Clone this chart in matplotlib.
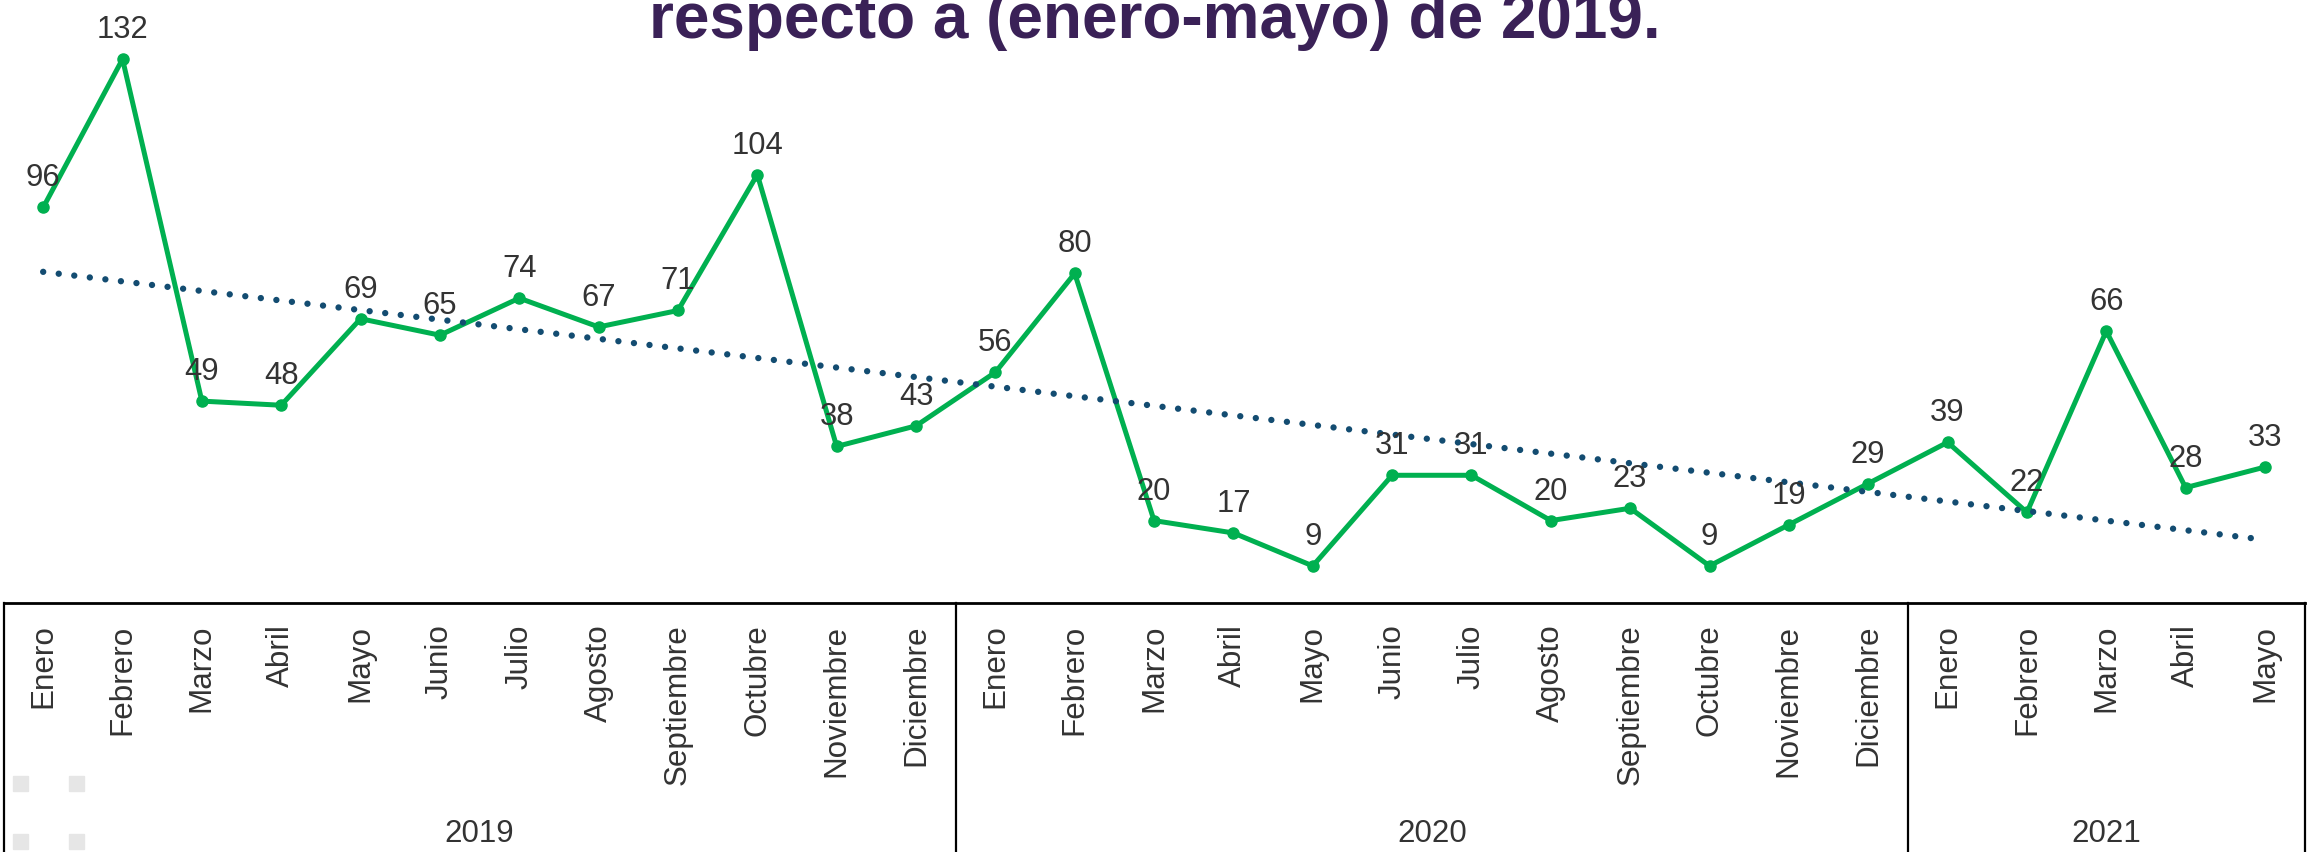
import numpy as np
import matplotlib
matplotlib.use("Agg")
import matplotlib.pyplot as plt
from matplotlib.transforms import blended_transform_factory
from matplotlib.patches import Rectangle

plt.rcParams["font.family"] = ["Liberation Sans", "DejaVu Sans"]

# Monthly values by year
months_2019 = ["Enero", "Febrero", "Marzo", "Abril", "Mayo", "Junio", "Julio",
               "Agosto", "Septiembre", "Octubre", "Noviembre", "Diciembre"]
months_2020 = ["Enero", "Febrero", "Marzo", "Abril", "Mayo", "Junio", "Julio",
               "Agosto", "Septiembre", "Octubre", "Noviembre", "Diciembre"]
months_2021 = ["Enero", "Febrero", "Marzo", "Abril", "Mayo"]

values_2019 = [96, 132, 49, 48, 69, 65, 74, 67, 71, 104, 38, 43]
values_2020 = [56, 80, 20, 17, 9, 31, 31, 20, 23, 9, 19, 29]
values_2021 = [39, 22, 66, 28, 33]

years = ["2019", "2020", "2021"]
title = "respecto a (enero-mayo) de 2019."

labels = months_2019 + months_2020 + months_2021
values = np.array(values_2019 + values_2020 + values_2021, dtype=float)
group_sizes = [len(months_2019), len(months_2020), len(months_2021)]
x = np.arange(len(values))

W, H = 2310, 852
fig = plt.figure(figsize=(W / 100, H / 100), dpi=100)

cat_w = 79.35
left_px = 3.5
bottom_px = 603
ax = fig.add_axes([left_px / W, (H - bottom_px) / H,
                   cat_w * len(values) / W, bottom_px / H])
ax.set_xlim(-0.5, len(values) - 0.5)
ax.set_ylim(0, bottom_px / 4.12)

green = "#00B050"
trend_col = "#134C71"
text_col = "#333333"

ax.plot(x, values, color=green, lw=3.6, marker="o", ms=8,
        solid_joinstyle="round", zorder=3)

# Linear trend
coef = np.polyfit(x, values, 1)
ax.plot(x, np.polyval(coef, x), color=trend_col, lw=4.6,
        linestyle=(0, (0.001, 2.45)), dash_capstyle="round", zorder=4)

for xi, v in zip(x, values):
    ax.annotate(f"{int(v)}", (xi, v), xytext=(0, 21), textcoords="offset pixels",
                ha="center", va="baseline", fontsize=22.3, color=text_col,
                zorder=5)

# Axis styling
for s in ["left", "right", "top"]:
    ax.spines[s].set_visible(False)
ax.spines["bottom"].set_color("black")
ax.spines["bottom"].set_linewidth(2)
ax.set_yticks([])
ax.set_xticks(x)
ax.set_xticklabels(labels, rotation=90, fontsize=22.6, color=text_col)
ax.tick_params(axis="x", length=0, pad=15.5)

# Category box with year separators
xt = ax.get_xaxis_transform()
edges = [-0.5]
for n in group_sizes:
    edges.append(edges[-1] + n)
for e in edges:
    ax.plot([e, e], [0, -1.2], transform=xt, color="black", lw=1.6,
            clip_on=False, zorder=2)

# Year labels
bt = blended_transform_factory(ax.transData, fig.transFigure)
for i, yr in enumerate(years):
    center = (edges[i] + edges[i + 1]) / 2
    ax.text(center, 10 / H, yr, transform=bt, ha="center", va="baseline",
            fontsize=22.5, color=text_col)

# Small grey squares at lower left
for (sx, sy) in [(13, 776), (69, 776), (13, 834), (69, 834)]:
    fig.patches.append(Rectangle((sx / W, (H - sy - 15) / H), 15 / W, 15 / H,
                                 transform=fig.transFigure, color="#E6E6E6",
                                 zorder=1))

fig.text(0.5, 1 - 38 / H, title, ha="center", va="baseline", fontsize=46,
         fontweight="bold", color="#3A2157")

fig.savefig("out.png", dpi=100)
